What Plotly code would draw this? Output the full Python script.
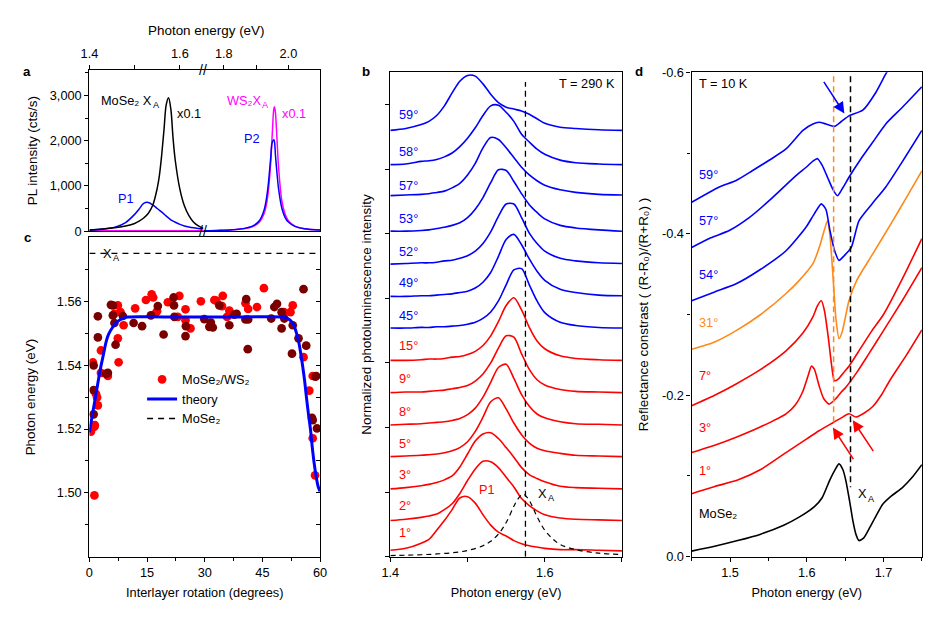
import plotly.graph_objects as go

W, H = 946, 621          # figure size
OFF = 8                  # default page margin around the figure
SX, SY = (W + 2 * OFF) / W, (H + 2 * OFF) / H   # page -> picture scale seen in the render
FONT = "Arial, Liberation Sans, Helvetica, sans-serif"
BLUE = "#0000FF"
RED = "#FF0000"
DARKRED = "#7A0000"
MAGENTA = "#FF00FF"
ORANGE = "#FF8A1A"
BLACK = "#000000"
FS = 12.75
FS_YT = 13.45
FS_SUB = 9.2

# ---------------- panel a : PL spectra (broken energy axis) ----------------
a_left_E = [1.40, 1.43, 1.46, 1.48, 1.50, 1.51, 1.52, 1.53, 1.54, 1.55, 1.555, 1.56,
            1.565, 1.57, 1.575, 1.58, 1.585, 1.59, 1.60, 1.61, 1.62, 1.63, 1.64, 1.652]
a_mose2_xa = [25, 45, 80, 115, 170, 220, 290, 390, 570, 950, 1250, 1700,
              2250, 2800, 2950, 2700, 2050, 1550, 930, 560, 340, 200, 120, 60]
a_p1 = [25, 45, 100, 190, 370, 490, 615, 635, 580, 500, 460, 420,
        375, 330, 290, 250, 220, 195, 150, 115, 90, 72, 60, 50]
a_ws2_left_E = [1.40, 1.652]
a_ws2_left = [8, 8]
a_right_E = [1.737, 1.78, 1.82, 1.86, 1.89, 1.91, 1.925, 1.935, 1.945, 1.95, 1.955,
             1.957, 1.96, 1.965, 1.97, 1.98, 1.99, 2.00, 2.02, 2.05, 2.098]
a_ws2_xa = [10, 15, 25, 50, 100, 195, 390, 710, 1480, 2130, 2700,
            2750, 2620, 2000, 1375, 660, 370, 230, 110, 52, 23]
a_p2 = [10, 16, 27, 55, 115, 230, 470, 860, 1590, 1960, 2020,
        1980, 1680, 1265, 915, 500, 300, 200, 105, 50, 23]

# ---------------- panel c : peak energy vs twist angle ----------------
c_red_deg = [0.9, 1.3, 1.3, 1.7, 2.0, 2.2, 1.4, 3.0, 3.0, 4.8, 6.5, 7.4, 8.1, 7.4, 7.6,
             8.9, 11.9, 14.7, 16.2, 16.6, 17.6, 17.1, 20.4, 23.4, 23.0, 25.0, 25.0, 26.3,
             29.0, 32.5, 34.7, 33.0, 34.5, 35.8, 36.4, 40.6, 41.3, 43.6, 45.4, 50.6, 52.3,
             52.9, 55.7, 57.2, 58.1, 58.1, 58.7, 0.4]
c_red_eV = [1.5409, 1.5207, 1.4992, 1.5310, 1.5299, 1.5274, 1.5212, 1.5446, 1.5376, 1.5366,
            1.5561, 1.5587, 1.5566, 1.5484, 1.5409, 1.5525, 1.5578, 1.5604, 1.5622, 1.5612,
            1.5569, 1.5561, 1.5597, 1.5617, 1.5551, 1.5575, 1.5541, 1.5515, 1.5600, 1.5604,
            1.5617, 1.5602, 1.5585, 1.5551, 1.5571, 1.5594, 1.5576, 1.5582, 1.5641, 1.5566,
            1.5566, 1.5587, 1.5425, 1.5320, 1.5366, 1.5171, 1.5055, 1.5192]
c_dark_deg = [1.1, 1.1, 1.1, 2.2, 2.2, 4.3, 4.8, 5.6, 6.1, 6.1, 6.5, 6.8, 8.7, 11.5, 13.7,
              16.0, 17.8, 19.3, 21.9, 22.0, 22.1, 25.0, 25.1, 29.9, 31.2, 31.6, 32.1, 33.8,
              36.4, 37.7, 38.3, 40.6, 40.8, 41.2, 41.3, 47.3, 48.1, 48.8, 50.0, 50.0, 50.7,
              52.7, 52.9, 54.4, 55.7, 56.4, 57.9, 58.8, 59.0, 59.2, 58.1]
c_dark_eV = [1.5399, 1.5322, 1.5246, 1.5553, 1.5487, 1.5373, 1.5376, 1.5589, 1.5587, 1.5556,
             1.5532, 1.5464, 1.5554, 1.5532, 1.5522, 1.5556, 1.5585, 1.5496, 1.5612, 1.5587,
             1.5551, 1.5491, 1.5522, 1.5544, 1.5520, 1.5533, 1.5518, 1.5587, 1.5525, 1.5558,
             1.5561, 1.5543, 1.5607, 1.5450, 1.5543, 1.5546, 1.5582, 1.5592, 1.5515, 1.5566,
             1.5546, 1.5436, 1.5525, 1.5484, 1.5638, 1.5461, 1.5235, 1.5364, 1.5366, 1.5202,
             1.5228]
c_theory_deg = [0, 0.5, 1, 1.5, 2, 2.5, 3, 3.5, 4, 4.5, 5, 6, 7, 8, 9, 10, 20, 30, 40, 50,
                51, 52, 53, 54, 54.5, 55, 55.5, 56, 56.5, 57, 57.5, 58, 58.5, 59, 59.5, 60]
c_theory_eV = [1.5190, 1.5225, 1.5260, 1.5295, 1.5330, 1.5365, 1.5397, 1.5425, 1.5455,
               1.5480, 1.5497, 1.5518, 1.5533, 1.5542, 1.5548, 1.5551, 1.5551, 1.5551,
               1.5551, 1.5551, 1.5549, 1.5543, 1.5530, 1.5495, 1.5470, 1.5435, 1.5395,
               1.5350, 1.5295, 1.5245, 1.5200, 1.5140, 1.5090, 1.5050, 1.5020, 1.5005]
c_xa_eV = 1.575
c_deg_span = [0, 60]

# ---------------- panel b : normalized PL, stacked ----------------
b_E = [1.40, 1.42, 1.44, 1.45, 1.46, 1.47, 1.48, 1.49, 1.50, 1.51, 1.52, 1.53,
       1.54, 1.55, 1.56, 1.57, 1.58, 1.59, 1.60, 1.62, 1.64, 1.67, 1.70]
pl_1 = [0.01, 0.04, 0.12, 0.18, 0.32, 0.47, 0.64, 0.82, 0.84, 0.74, 0.56, 0.40,
        0.29, 0.23, 0.16, 0.11, 0.08, 0.06, 0.04, 0.02, 0.02, 0.01, 0.00]
pl_2 = [0.00, 0.02, 0.05, 0.07, 0.10, 0.17, 0.26, 0.42, 0.62, 0.80, 0.92, 0.91,
        0.82, 0.67, 0.52, 0.34, 0.23, 0.15, 0.09, 0.04, 0.02, 0.01, 0.00]
pl_3 = [0.00, 0.02, 0.05, 0.07, 0.10, 0.14, 0.20, 0.34, 0.54, 0.74, 0.85, 0.87,
        0.78, 0.64, 0.49, 0.33, 0.22, 0.16, 0.11, 0.04, 0.02, 0.01, 0.00]
pl_5 = [0.01, 0.02, 0.03, 0.04, 0.05, 0.07, 0.10, 0.15, 0.24, 0.40, 0.62, 0.86,
        0.92, 0.75, 0.53, 0.35, 0.22, 0.14, 0.10, 0.06, 0.03, 0.02, 0.01]
pl_8 = [0.01, 0.02, 0.03, 0.04, 0.05, 0.06, 0.08, 0.11, 0.17, 0.27, 0.44, 0.67,
        0.90, 0.95, 0.73, 0.48, 0.30, 0.18, 0.12, 0.06, 0.03, 0.02, 0.01]
pl_9 = [0.01, 0.02, 0.02, 0.03, 0.04, 0.05, 0.07, 0.09, 0.12, 0.19, 0.30, 0.47,
        0.70, 0.89, 0.87, 0.61, 0.37, 0.21, 0.13, 0.06, 0.03, 0.02, 0.01]
pl_15 = [0.01, 0.01, 0.02, 0.03, 0.03, 0.04, 0.06, 0.07, 0.10, 0.15, 0.24, 0.39,
         0.61, 0.86, 0.98, 0.79, 0.52, 0.31, 0.19, 0.08, 0.04, 0.02, 0.01]
pl_45 = [0.01, 0.01, 0.02, 0.02, 0.03, 0.03, 0.04, 0.05, 0.07, 0.10, 0.16, 0.26,
         0.43, 0.68, 0.91, 0.93, 0.68, 0.43, 0.25, 0.10, 0.05, 0.02, 0.01]
pl_49 = [0.01, 0.01, 0.02, 0.02, 0.03, 0.04, 0.05, 0.07, 0.09, 0.14, 0.23, 0.38,
         0.63, 0.89, 0.97, 0.81, 0.59, 0.40, 0.26, 0.12, 0.07, 0.03, 0.02]
pl_52 = [0.01, 0.02, 0.03, 0.03, 0.04, 0.06, 0.07, 0.10, 0.14, 0.21, 0.33, 0.51,
         0.75, 0.94, 0.94, 0.73, 0.49, 0.33, 0.21, 0.10, 0.06, 0.03, 0.02]
pl_53 = [0.02, 0.02, 0.03, 0.04, 0.06, 0.08, 0.11, 0.15, 0.23, 0.36, 0.54, 0.77,
         0.97, 0.96, 0.79, 0.60, 0.43, 0.31, 0.21, 0.11, 0.07, 0.04, 0.02]
pl_57 = [0.02, 0.03, 0.04, 0.05, 0.07, 0.09, 0.14, 0.21, 0.34, 0.52, 0.76, 0.92,
         0.89, 0.76, 0.61, 0.46, 0.34, 0.25, 0.18, 0.11, 0.07, 0.04, 0.03]
pl_58 = [0.03, 0.04, 0.08, 0.09, 0.11, 0.15, 0.21, 0.31, 0.44, 0.60, 0.79, 0.94,
         0.95, 0.84, 0.70, 0.50, 0.38, 0.27, 0.19, 0.10, 0.06, 0.04, 0.03]
pl_59 = [0.00, 0.03, 0.09, 0.14, 0.23, 0.38, 0.58, 0.76, 0.85, 0.84, 0.72, 0.56,
         0.43, 0.36, 0.33, 0.30, 0.25, 0.18, 0.11, 0.05, 0.03, 0.01, 0.00]
b_angles = ["1°", "2°", "3°", "5°", "8°", "9°", "15°", "45°", "49°", "52°", "53°", "57°", "58°", "59°"]
b_spectra = [pl_1, pl_2, pl_3, pl_5, pl_8, pl_9, pl_15, pl_45, pl_49, pl_52, pl_53, pl_57, pl_58, pl_59]
b_offsets = [0.09, 0.56, 1.05, 1.54, 2.03, 2.53, 3.03, 3.53, 4.02, 4.52, 5.02, 5.57, 6.04, 6.60]
b_label_y = [0.38, 0.79, 1.27, 1.75, 2.25, 2.76, 3.27, 3.74, 4.25, 4.72, 5.24, 5.75, 6.28, 6.85]
b_is_blue = [False] * 7 + [True] * 7
b_xa_E = [1.40, 1.42, 1.44, 1.46, 1.48, 1.50, 1.52, 1.53, 1.54, 1.55, 1.56, 1.565,
          1.572, 1.58, 1.59, 1.60, 1.61, 1.62, 1.64, 1.67, 1.70]
b_xa = [0.018, 0.024, 0.031, 0.043, 0.062, 0.097, 0.17, 0.24, 0.35, 0.53, 0.78, 0.89,
        0.97, 0.87, 0.62, 0.41, 0.28, 0.19, 0.11, 0.055, 0.033]
b_xa_line_E = 1.575
b_xa_line_span = [0.0, 7.35]

# ---------------- panel d : reflectance contrast (T = 10 K) ----------------
d_mose2_E = [1.45, 1.48, 1.51, 1.54, 1.57, 1.59, 1.61, 1.62, 1.63, 1.637, 1.642, 1.647, 1.651,
             1.656, 1.660, 1.664, 1.668, 1.674, 1.682, 1.69, 1.699, 1.71, 1.725, 1.738, 1.75]
d_mose2 = [-0.007, -0.013, -0.020, -0.028, -0.039, -0.049, -0.062, -0.073, -0.095, -0.108,
           -0.115, -0.108, -0.094, -0.068, -0.045, -0.028, -0.020, -0.023, -0.036, -0.050,
           -0.065, -0.075, -0.086, -0.099, -0.114]
d_1_E = [1.45, 1.48, 1.51, 1.54, 1.573, 1.60, 1.616, 1.634, 1.645, 1.655, 1.664, 1.675,
         1.686, 1.697, 1.708, 1.73, 1.75]
d_1 = [-0.078, -0.087, -0.095, -0.108, -0.129, -0.146, -0.156, -0.166, -0.172, -0.177,
       -0.173, -0.178, -0.186, -0.200, -0.218, -0.250, -0.281]
d_3_E = [1.45, 1.48, 1.508, 1.54, 1.573, 1.585, 1.595, 1.602, 1.606, 1.610, 1.616, 1.622,
         1.629, 1.637, 1.645, 1.651, 1.665, 1.68, 1.70, 1.725, 1.75]
d_3 = [-0.129, -0.138, -0.148, -0.161, -0.177, -0.188, -0.205, -0.225, -0.236, -0.232,
       -0.212, -0.196, -0.189, -0.195, -0.204, -0.210, -0.228, -0.250, -0.280, -0.318, -0.358]
d_7_E = [1.45, 1.48, 1.508, 1.54, 1.573, 1.595, 1.608, 1.614, 1.619, 1.623, 1.628, 1.632,
         1.636, 1.641, 1.648, 1.655, 1.67, 1.685, 1.70, 1.725, 1.75]
d_7 = [-0.187, -0.200, -0.214, -0.232, -0.255, -0.277, -0.297, -0.311, -0.317, -0.305,
       -0.272, -0.240, -0.218, -0.220, -0.228, -0.236, -0.258, -0.280, -0.300, -0.345, -0.394]
d_31_E = [1.45, 1.48, 1.508, 1.54, 1.573, 1.59, 1.608, 1.617, 1.623, 1.627, 1.630, 1.634,
          1.638, 1.642, 1.646, 1.655, 1.665, 1.686, 1.712, 1.73, 1.75]
d_31 = [-0.257, -0.266, -0.280, -0.300, -0.326, -0.342, -0.363, -0.385, -0.405, -0.416,
        -0.400, -0.350, -0.295, -0.270, -0.278, -0.317, -0.342, -0.375, -0.416, -0.445, -0.478]
d_54_E = [1.45, 1.48, 1.508, 1.54, 1.573, 1.599, 1.61, 1.619, 1.625, 1.630, 1.636, 1.642,
          1.648, 1.658, 1.668, 1.685, 1.703, 1.725, 1.75]
d_54 = [-0.317, -0.328, -0.338, -0.356, -0.379, -0.408, -0.425, -0.437, -0.430, -0.405,
        -0.380, -0.367, -0.372, -0.383, -0.416, -0.437, -0.458, -0.490, -0.528]
d_57_E = [1.45, 1.475, 1.499, 1.525, 1.551, 1.586, 1.60, 1.608, 1.614, 1.620, 1.627, 1.634,
          1.640, 1.647, 1.655, 1.67, 1.685, 1.703, 1.725, 1.75]
d_57 = [-0.383, -0.395, -0.404, -0.420, -0.441, -0.472, -0.483, -0.490, -0.493, -0.485,
        -0.470, -0.455, -0.447, -0.457, -0.470, -0.492, -0.512, -0.536, -0.557, -0.582]
d_59_E = [1.45, 1.486, 1.508, 1.529, 1.551, 1.573, 1.595, 1.608, 1.616, 1.625, 1.636, 1.645,
          1.655, 1.673, 1.69, 1.703, 1.72, 1.75]
d_59 = [-0.439, -0.458, -0.466, -0.478, -0.491, -0.505, -0.528, -0.536, -0.538, -0.536,
        -0.533, -0.539, -0.546, -0.553, -0.575, -0.598, -0.625, -0.670]
d_labels = ["MoSe₂", "1°", "3°", "7°", "31°", "54°", "57°", "59°"]
d_label_v = [-0.053, -0.107, -0.160, -0.224, -0.290, -0.350, -0.416, -0.474]
d_colors = [BLACK, RED, RED, RED, ORANGE, BLUE, BLUE, BLUE]
d_E_sets = [d_mose2_E, d_1_E, d_3_E, d_7_E, d_31_E, d_54_E, d_57_E, d_59_E]
d_V_sets = [d_mose2, d_1, d_3, d_7, d_31, d_54, d_57, d_59]
d_dash_E = [1.635, 1.657]
d_dash_top = [-0.595, -0.595]
d_dash_bottom = [-0.165, -0.086]
d_dash_colors = [ORANGE, BLACK]

fig = go.Figure()

# ---- panel a traces
fig.add_trace(go.Scatter(x=a_ws2_left_E, y=a_ws2_left, mode="lines", line=dict(color=MAGENTA, width=1.5),
                         xaxis="x", yaxis="y", showlegend=False))
fig.add_trace(go.Scatter(x=a_left_E, y=a_p1, mode="lines", line=dict(color=BLUE, width=1.5, shape="spline"),
                         xaxis="x", yaxis="y", showlegend=False))
fig.add_trace(go.Scatter(x=a_left_E, y=a_mose2_xa, mode="lines", line=dict(color=BLACK, width=1.5, shape="spline"),
                         xaxis="x", yaxis="y", showlegend=False))
fig.add_trace(go.Scatter(x=a_right_E, y=a_ws2_xa, mode="lines", line=dict(color=MAGENTA, width=1.5, shape="spline"),
                         xaxis="x2", yaxis="y2", showlegend=False))
fig.add_trace(go.Scatter(x=a_right_E, y=a_p2, mode="lines", line=dict(color=BLUE, width=1.5, shape="spline"),
                         xaxis="x2", yaxis="y2", showlegend=False))

# ---- panel c traces
fig.add_trace(go.Scatter(x=c_red_deg, y=c_red_eV, mode="markers", name="MoSe₂/WS₂",
                         marker=dict(color=RED, size=8.7), xaxis="x3", yaxis="y3", showlegend=True))
fig.add_trace(go.Scatter(x=c_dark_deg, y=c_dark_eV, mode="markers", name="MoSe₂/WS₂ (2)",
                         marker=dict(color=DARKRED, size=8.7), xaxis="x3", yaxis="y3", showlegend=False))
fig.add_trace(go.Scatter(x=c_theory_deg, y=c_theory_eV, mode="lines", name="theory",
                         line=dict(color=BLUE, width=3, shape="spline"), xaxis="x3", yaxis="y3"))
fig.add_trace(go.Scatter(x=c_deg_span, y=[c_xa_eV, c_xa_eV], mode="lines", name="MoSe₂",
                         line=dict(color=BLACK, width=1.3, dash="6px,5px"), xaxis="x3", yaxis="y6"))

# ---- panel b traces (top curve first so lower ones are drawn over)
for i in range(len(b_spectra) - 1, -1, -1):
    col = BLUE if b_is_blue[i] else RED
    fig.add_trace(go.Scatter(x=b_E, y=[b_offsets[i] + v for v in b_spectra[i]], mode="lines",
                             line=dict(color=col, width=1.6, shape="spline", smoothing=0.8),
                             xaxis="x4", yaxis="y4", showlegend=False, name=b_angles[i]))
fig.add_trace(go.Scatter(x=b_xa_E, y=b_xa, mode="lines", line=dict(color=BLACK, width=1.2, dash="5px,4px", shape="spline"),
                         xaxis="x4", yaxis="y4", showlegend=False))
fig.add_trace(go.Scatter(x=[b_xa_line_E, b_xa_line_E], y=b_xa_line_span, mode="lines",
                         line=dict(color=BLACK, width=1.3, dash="6px,4px"), xaxis="x4", yaxis="y4", showlegend=False))

# ---- panel d traces
for E, V, col in zip(d_E_sets, d_V_sets, d_colors):
    fig.add_trace(go.Scatter(x=E, y=V, mode="lines", line=dict(color=col, width=1.6, shape="spline", smoothing=0.6),
                             xaxis="x5", yaxis="y5", showlegend=False))
for e, t, b, col in zip(d_dash_E, d_dash_top, d_dash_bottom, d_dash_colors):
    fig.add_trace(go.Scatter(x=[e, e], y=[t, b], mode="lines", line=dict(color=col, width=1.5, dash="6px,4px"),
                             xaxis="x5", yaxis="y5", showlegend=False))


def px_x(p):
    return (p * SX - OFF) / W


def px_y(p):
    return 1 - (p * SY - OFF) / H


axis_base = dict(showgrid=False, zeroline=False, showline=True, linecolor=BLACK, linewidth=1.4,
                 ticks="outside", ticklen=4, tickwidth=1.3, tickcolor=BLACK,
                 tickfont=dict(size=FS, color=BLACK, family=FONT))


def ax(**kw):
    d = dict(axis_base)
    d.update(kw)
    return d


minor_style = dict(ticklen=3, tickwidth=1.3, tickcolor=BLACK, ticks="outside")
title_font = dict(size=FS, color=BLACK, family=FONT)
ytitle_font = dict(size=FS_YT, color=BLACK, family=FONT)

a_ydom = [px_y(230.7), px_y(70)]
c_ydom = [px_y(556), px_y(237)]
bd_ydom = [px_y(556), px_y(72)]

fig.update_layout(
    width=W, height=H, margin=dict(l=0, r=0, t=0, b=0),
    paper_bgcolor="white", plot_bgcolor="white",
    font=dict(family=FONT, size=FS, color=BLACK),
    showlegend=True,
    legend=dict(x=px_x(141), y=px_y(364), xanchor="left", yanchor="top", bgcolor="rgba(0,0,0,0)",
                font=dict(size=FS, family=FONT), tracegroupgap=0, itemwidth=30),
    # panel a
    xaxis=ax(domain=[px_x(88.3), px_x(202.3)], range=[1.4, 1.652], side="top", anchor="y", mirror=True,
             tickvals=[1.4, 1.5, 1.6], ticktext=["1.4", "", "1.6"], ticklabelstandoff=2),
    xaxis2=ax(domain=[px_x(202.3), px_x(319)], range=[1.737, 2.098], side="top", anchor="y2", mirror=True,
              tickvals=[1.8, 1.9, 2.0], ticktext=["1.8", "", "2.0"], ticklabelstandoff=2),
    yaxis=ax(domain=a_ydom, range=[0, 3555], anchor="x",
             tickvals=[0, 1000, 2000, 3000], ticktext=["0", "1,000", "2,000", "3,000"],
             minor=dict(tickvals=[500, 1500, 2500, 3500], **minor_style),
             title=dict(text="PL intensity (cts/s)", font=ytitle_font, standoff=9)),
    yaxis2=ax(domain=a_ydom, range=[0, 3555], anchor="x2", side="right", ticks="", showticklabels=False),
    # panel c
    xaxis3=ax(domain=[px_x(88.3), px_x(319)], range=[0, 60], anchor="y3", mirror=True,
              tickvals=[0, 15, 30, 45, 60], minor=dict(tickvals=[7.5, 22.5, 37.5, 52.5], **minor_style),
              title=dict(text="Interlayer rotation (degrees)", font=title_font, standoff=8)),
    yaxis3=ax(domain=c_ydom, range=[1.48, 1.58], anchor="x3",
              tickvals=[1.50, 1.52, 1.54, 1.56], ticktext=["1.50", "1.52", "1.54", "1.56"],
              minor=dict(tickvals=[1.49, 1.51, 1.53, 1.55, 1.57], **minor_style),
              title=dict(text="Photon energy (eV)", font=ytitle_font, standoff=18)),
    yaxis6=ax(domain=c_ydom, range=[1.48, 1.58], anchor="x3", overlaying="y3", side="right",
              ticks="inside", showticklabels=False,
              tickvals=[1.49, 1.50, 1.51, 1.52, 1.53, 1.54, 1.55, 1.56, 1.57]),
    # panel b
    xaxis4=ax(domain=[px_x(389.3), px_x(621)], range=[1.4, 1.7], anchor="y4", mirror=True,
              tickvals=[1.4, 1.5, 1.6, 1.7], ticktext=["1.4", "", "1.6", ""],
              title=dict(text="Photon energy (eV)", font=title_font, standoff=8)),
    yaxis4=ax(domain=bd_ydom, range=[0, 7.5], anchor="x4", mirror=True,
              tickvals=[0, 1, 2, 3, 4, 5, 6, 7], showticklabels=False,
              title=dict(text="Normalized photoluminescence intensity", font=ytitle_font, standoff=10)),
    # panel d
    xaxis5=ax(domain=[px_x(690.7), px_x(921)], range=[1.45, 1.75], anchor="y5", mirror=True,
              tickvals=[1.5, 1.6, 1.7], ticktext=["1.5", "1.6", "1.7"],
              minor=dict(tickvals=[1.45, 1.55, 1.65, 1.75], **minor_style),
              title=dict(text="Photon energy (eV)", font=title_font, standoff=8)),
    yaxis5=ax(domain=bd_ydom, range=[0, -0.6], anchor="x5", mirror=True,
              tickvals=[-0.6, -0.4, -0.2, 0.0], ticktext=["-0.6", "-0.4", "-0.2", "0.0"],
              minor=dict(tickvals=[-0.5, -0.3, -0.1], **minor_style),
              title=dict(text="Reflectance constrast ( (R-R₀)/(R+R₀) )",
                         font=ytitle_font, standoff=10)),
)

ann = []


def text(x, y, s, xref, yref, color=BLACK, size=FS, xanchor="center", yanchor="middle",
         bold=False, xshift=0, yshift=0):
    ann.append(dict(x=x, y=y, xref=xref, yref=yref, text=("<b>%s</b>" % s) if bold else s,
                    showarrow=False, xanchor=xanchor, yanchor=yanchor, xshift=xshift, yshift=yshift,
                    font=dict(size=size, color=color, family=FONT)))


def x_sub_a(x, y, xref, yref, prefix="X", color=BLACK):
    # "X" followed by a lowered small "A"; x is where the X ends
    text(x, y, prefix, xref, yref, color=color, xanchor="right", xshift=1)
    text(x, y, "A", xref, yref, color=color, size=FS_SUB, xanchor="left", xshift=-2, yshift=-5)


# panel letters
text(px_x(26), px_y(71.7), "a", "paper", "paper", size=13.3, bold=True)
text(px_x(26), px_y(237.3), "c", "paper", "paper", size=13.3, bold=True)
text(px_x(365), px_y(71.7), "b", "paper", "paper", size=13.3, bold=True)
text(px_x(638), px_y(71.7), "d", "paper", "paper", size=13.3, bold=True)

# panel a
text(px_x(205), px_y(30.5), "Photon energy (eV)", "paper", "paper", size=FS_YT)
x_sub_a(1.540, 2890, "x", "y", prefix="MoSe₂ X")
text(1.621, 2600, "x0.1", "x", "y")
x_sub_a(1.9186, 2890, "x2", "y2", prefix="WS₂X", color=MAGENTA)
text(2.016, 2600, "x0.1", "x2", "y2", color=MAGENTA)
text(1.889, 2050, "P2", "x2", "y2", color=BLUE)
text(1.480, 720, "P1", "x", "y", color=BLUE)
for yy in [px_y(70), px_y(230.7)]:
    ann.append(dict(x=px_x(202.3), y=yy, xref="paper", yref="paper", text="//", showarrow=False,
                    xanchor="center", yanchor="middle", font=dict(size=14, color=BLACK, family=FONT)))

# panel c
x_sub_a(6.2, c_xa_eV, "x3", "y3")

# panel b
for lab, yy, blue in zip(b_angles, b_label_y, b_is_blue):
    text(1.408, yy, lab, "x4", "y4", color=BLUE if blue else RED, xanchor="left")
text(1.694, 7.33, "T = 290 K", "x4", "y4", xanchor="right")
text(1.525, 1.04, "P1", "x4", "y4", color=RED)
x_sub_a(1.6048, 0.98, "x4", "y4")

# panel d
for lab, vv, col in zip(d_labels, d_label_v, d_colors):
    text(1.457, vv, lab, "x5", "y5", color=col, xanchor="left")
text(1.457, -0.586, "T = 10 K", "x5", "y5", xanchor="left")
x_sub_a(1.6799, -0.078, "x5", "y5")
d_arrow_tip = [(1.649, -0.549), (1.634, -0.160), (1.660, -0.169)]
d_arrow_tail = [(1.621, -0.590), (1.662, -0.119), (1.688, -0.129)]
d_arrow_col = [BLUE, RED, RED]
for (tx, ty), (sx, sy), col in zip(d_arrow_tip, d_arrow_tail, d_arrow_col):
    ann.append(dict(x=tx, y=ty, ax=sx, ay=sy, xref="x5", yref="y5", axref="x5", ayref="y5",
                    text="", showarrow=True, arrowhead=2, arrowsize=1.5, arrowwidth=1.5,
                    arrowcolor=col, standoff=0))

fig.update_layout(annotations=ann)
fig.write_html("out.html")
